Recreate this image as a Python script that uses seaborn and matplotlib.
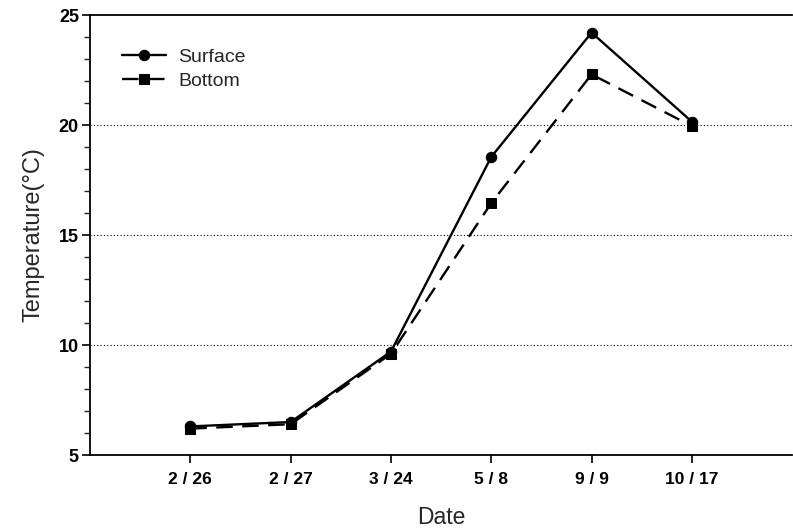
import matplotlib
matplotlib.use("Agg")
import matplotlib.pyplot as plt
import seaborn as sns
import pandas as pd
from matplotlib.ticker import MultipleLocator

dates = ["2 / 26", "2 / 27", "3 / 24", "5 / 8", "9 / 9", "10 / 17"]
surface = [6.3, 6.5, 9.7, 18.55, 24.2, 20.15]
bottom = [6.2, 6.4, 9.6, 16.45, 22.3, 19.95]
series_names = ["Surface", "Bottom"]

df = pd.DataFrame({
    "Date": list(range(len(dates))) * 2,
    "Temperature": surface + bottom,
    "Series": [series_names[0]] * len(dates) + [series_names[1]] * len(dates),
})

sns.set_theme(style="white")
plt.rcParams["font.family"] = ["Liberation Sans", "DejaVu Sans"]

fig = plt.figure(figsize=(7.93, 5.32), dpi=100)
ax = fig.add_axes([0.1135, 0.1447, 0.8855, 0.8271])

sns.lineplot(data=df, x="Date", y="Temperature", hue="Series", style="Series",
             palette=["black", "black"], markers={"Surface": "o", "Bottom": "s"},
             dashes={"Surface": "", "Bottom": (7, 4)}, markersize=7.5,
             markeredgecolor="black", linewidth=1.7, ax=ax)

ax.set_xlim(-1, 6)
ax.set_ylim(5, 25)
ax.set_xticks(range(len(dates)))
ax.set_xticklabels(dates, fontweight="bold", fontsize=12.5)
ax.set_yticks([5, 10, 15, 20, 25])
ax.set_yticklabels(["5", "10", "15", "20", "25"], fontweight="bold", fontsize=13)
ax.yaxis.set_minor_locator(MultipleLocator(1))
ax.tick_params(axis="both", which="major", direction="out", length=6, width=1.2,
               colors="black", bottom=True, left=True)
ax.tick_params(axis="y", which="minor", direction="out", length=4, width=1,
               left=True)
ax.tick_params(axis="x", pad=6)
ax.tick_params(axis="y", pad=2)
for y in [10, 15, 20]:
    ax.axhline(y, color="black", linestyle=(0, (1, 2)), linewidth=0.8, zorder=0)

ax.spines["right"].set_visible(False)
for s in ["left", "bottom", "top"]:
    ax.spines[s].set_color("black")
    ax.spines[s].set_linewidth(1.3)

ax.set_xlabel("Date", fontsize=16.5, labelpad=14)
ax.set_ylabel("Temperature(\u00b0C)", fontsize=17, labelpad=10)

leg = ax.legend(loc="upper left", bbox_to_anchor=(0.02, 0.965), frameon=False,
                fontsize=14, handlelength=2.3, handletextpad=0.6,
                labelspacing=0.35, title=None)

fig.savefig("out.png", dpi=100)
